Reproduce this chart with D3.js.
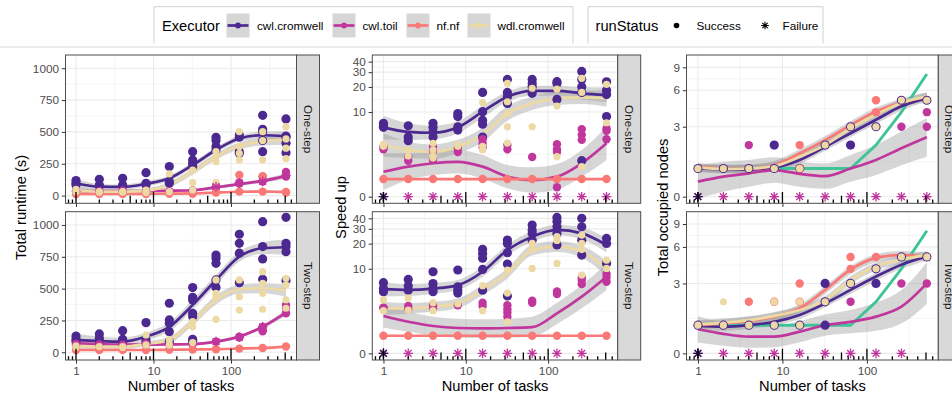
<!DOCTYPE html>
<html><head><meta charset="utf-8">
<script src="https://cdn.jsdelivr.net/npm/d3@7"></script>
<style>body{margin:0;background:#fff}svg{display:block}text{font-family:"Liberation Sans",Arial,Helvetica,sans-serif}</style>
</head><body><svg id="c" width="952" height="394"></svg>
<script>
// ---------- data ----------
const tasks=[1,2,4,8,16,32,64,128,256,512];
const executors=["cwl.cromwell","cwl.toil","nf.nf","wdl.cromwell"];
const statusLabels=["Success","Failure"];
const rowLabels=["One-step","Two-step"];
const metricTitles=["Total runtime (s)","Speed up","Total occupied nodes"];
const runtimeTicks=[0,250,500,750,1000];
const speedTicks=[0,10,20,30,40];
const nodeTicks=[0,3,6,9];
const taskTicks=[1,10,100];

// Runtime, One-step (points per task)
const rt1_cromwell=[[118,97,84],[128,84,76],[136,84,76],[180,97,84],[228,110,97],[345,280,254,228],[458,432,385,358],[476,458,345,332],[630,520,502,432,345],[602,468,458,411,337]];
const rt1_toil=[[40,35],[35],[38],[36],[35],[40],[65,75],[95,100],[110,150],[185,150]];
const rt1_nf=[[13],[13],[13],[13],[15],[15],[24],[31,162],[31,150],[28,24]];
const rt1_wdl=[[50,31],[31,28],[31,28],[44,24],[170,31],[201,102,44],[345,306,267,102],[502,385,332,280],[502,432,280],[540,445,372,290]];
const rt1_toil_fail=[[64,70],[128,100],[256,112],[512,160]];
const rt1_cromwell_fit=[97,70,68,92,136,240,358,448,474,468], rt1_cromwell_lo=[62,48,48,72,114,218,336,424,446,430], rt1_cromwell_hi=[132,92,88,112,158,262,380,472,502,506];
const rt1_toil_fit=[38,36,36,36,38,42,65,90,115,155], rt1_toil_lo=[30,29,29,29,31,34,55,78,100,135], rt1_toil_hi=[46,43,43,43,45,50,75,102,130,175];
const rt1_nf_fit=[13,13,13,14,15,17,24,30,32,28], rt1_nf_lo=[7,8,8,9,10,11,17,22,23,17], rt1_nf_hi=[19,18,18,19,20,23,31,38,41,39];
const rt1_wdl_fit=[44,31,31,39,84,188,306,390,424,437], rt1_wdl_lo=[20,12,13,20,62,164,282,364,394,400], rt1_wdl_hi=[68,50,49,58,106,212,330,416,454,474];

// Runtime, Two-step
const rt2_cromwell=[[128,102,84],[144,110,84],[170,102,84],[233,97,76],[385,254,228,162,84],[508,432,411,306,280,102,84],[764,738,699,568,508],[927,856,778,547],[1026,830,733,573],[1060,856,830,790,563]];
const rt2_toil=[[65,55],[62],[60],[60,70],[62],[65],[84],[123,115],[200,175,165],[372,346,306]];
const rt2_nf=[[18],[18],[18],[18],[20],[22],[24],[29],[34],[45]];
const rt2_wdl=[[50,40],[45],[45,38],[136,58],[97,58],[241,200,76],[568,463,437,259],[568,437,332],[633,542,463,338],[581,529,411,346]];
const rt2_toil_fail=[[64,84],[128,118],[256,200]];
const rt2_cromwell_fit=[97,88,84,123,200,372,568,751,817,825], rt2_cromwell_lo=[47,53,54,93,165,332,528,711,772,765], rt2_cromwell_hi=[147,123,114,153,235,412,608,791,862,885];
const rt2_toil_fit=[70,65,60,60,62,65,84,123,200,311], rt2_toil_lo=[58,55,50,50,52,55,74,111,185,286], rt2_toil_hi=[82,75,70,70,72,75,94,135,215,336];
const rt2_nf_fit=[18,18,18,18,20,22,24,29,34,45], rt2_nf_lo=[12,12,12,12,14,16,18,23,28,39], rt2_nf_hi=[24,24,24,24,26,28,30,35,40,51];
const rt2_wdl_fit=[50,45,45,65,97,241,411,495,503,484], rt2_wdl_lo=[25,25,25,45,72,211,376,460,463,434], rt2_wdl_hi=[75,65,65,85,122,271,446,530,543,534];

// Speed up, One-step
const sp1_cromwell=[[7.3,6.8,6.5],[6.8,4.9,4.4],[7.3,6.5,5.7,4.9],[9.6,8.8,6.6,6.0],[17.2,10.1,7.9,7.1,4.9],[24.6,17.2,15.3,12.7],[24.6,22,20.1,16.8],[23.1,22,14.2],[30.6,24.6,20.1,17.2,2.3],[23,18.3,16.2,8.8]];
const sp1_toil=[[3.66,3.37],[2.65,2.3],[3.66,3.23,2.35],[3.5,3.1],[4.6,4.07,3.6],[3.86,3.37],[2.62],[3.95,3.37,3.1,0.52],[6.14,5.23,4.51],[6.3,5.9,4.6]];
const sp1_nf=[[1],[1],[1],[1],[1],[1],[1],[1],[1],[1]];
const sp1_wdl=[[3.95,3.7],[3.3,2.7],[4.07,3.3,2.71,2.52],[3.9,3.7],[13.0,3.7,3.3],[22.1,13.3,9.6,6.6,4.1],[19.3,6.6],[18.8,11.8,2.65],[25.3,17.2,1.83],[21.5,7.4]];
const sp1_toil_fail=[[1,0],[2,0],[4,0],[8,0],[16,0],[32,0],[64,0],[128,0],[256,0],[512,0]];
const sp1_cromwell_fail=[[1,0]];
const sp1_cromwell_fit=[6.5,5.7,5.56,6.5,10.1,15.3,18,18,16.8,16], sp1_cromwell_lo=[4.6,4.5,4.6,5.5,8.5,13.3,15.7,15.7,14.2,13.1], sp1_cromwell_hi=[9.0,7.3,6.8,7.7,11.9,17.6,20.7,20.7,19.8,19.6];
const sp1_toil_fit=[1.47,1.83,2.09,2.2,1.83,1.15,0.94,1.15,2.09,4.07], sp1_toil_lo=[0.37,0.94,1.25,1.36,1.04,0.46,0.22,0.40,1.15,2.36], sp1_toil_hi=[2.97,2.97,3.13,3.30,2.80,1.95,1.78,2.03,3.30,6.62];
const sp1_nf_fit=[1,1,1,1,1,1,1,1,1,1], sp1_nf_lo=[0.98,0.98,0.98,0.98,0.98,0.98,0.98,0.98,0.98,0.98], sp1_nf_hi=[1.02,1.02,1.02,1.02,1.02,1.02,1.02,1.02,1.02,1.02];
const sp1_wdl_fit=[3.86,3.3,3.1,3.66,5.23,9.65,12.7,14.6,15,14.6], sp1_wdl_lo=[2.65,2.52,2.44,2.97,4.19,7.85,10.6,12.2,12.5,11.6], sp1_wdl_hi=[5.48,4.27,3.94,4.51,6.44,11.8,15.3,17.6,18.0,18.4];

// Speed up, Two-step
const sp2_cromwell=[[6.76,5.7,5.2],[7.4,6.2,5.45],[9.2,6.6,5.7,5.2],[9.65,6.0,5.45,5.0],[17.1,15.3,13.4,9.8,5.45],[22.1,20.1,15.6,11.4,4.6],[33.3,29.1,26.5,22],[41,36.6,31.8,26.5,19.3],[40,31.8,22,14.6],[23.1,20.1,11.6]];
const sp2_toil=[[3.23,3.13],[3.37,3.03],[3.45,3.13],[3.45],[3.73,3.37],[3.45,3.03,2.71,2.36],[3.99,3.73],[5.23,4.87],[7.85,7.28,6.48],[8.63,7.85,6.95]];
const sp2_nf=[[1],[1],[1],[1],[1],[1],[1],[1],[1],[1]];
const sp2_wdl=[[4.07,2.9],[4.3,2.95],[3.75,2.9],[3.6],[6.2,2.9],[9.65,5.0,1.95],[20.1,17.0,10.1],[24.2,21.8,11.6],[25.3,20.1,17,8.4],[12.7,10.1]];
const sp2_toil_fail=[[1,0],[2,0],[4,0],[8,0],[16,0],[32,0],[64,0],[128,0],[256,0]];
const sp2_cromwell_fail=[[1,0]];
const sp2_cromwell_fit=[5.6,5.48,5.7,6.3,9.2,16.8,24.2,29.1,26.5,19.3], sp2_cromwell_lo=[4.53,4.59,4.91,5.48,7.93,14.5,20.9,25.1,22.5,15.7], sp2_cromwell_hi=[6.95,6.48,6.69,7.28,10.7,19.4,28.0,33.6,31.2,23.5];
const sp2_toil_fit=[2.42,1.95,1.64,1.5,1.47,1.5,1.56,2.65,4.5,8.0], sp2_toil_lo=[1.52,1.25,1.02,0.90,0.86,0.90,0.94,1.78,3.13,5.48], sp2_toil_hi=[3.55,2.80,2.36,2.19,2.14,2.19,2.36,3.73,6.3,11.6];
const sp2_nf_fit=[1,1,1,1,1,1,1,1,1,1], sp2_nf_lo=[0.98,0.98,0.98,0.98,0.98,0.98,0.98,0.98,0.98,0.98], sp2_nf_hi=[1.02,1.02,1.02,1.02,1.02,1.02,1.02,1.02,1.02,1.02];
const sp2_wdl_fit=[3.13,3.13,3.3,3.66,5.48,8.8,16.8,18.4,16,10.1], sp2_wdl_lo=[2.52,2.62,2.80,3.13,4.72,7.63,14.5,15.9,13.6,8.23], sp2_wdl_hi=[3.86,3.70,3.86,4.27,6.3,10.1,19.4,21.3,18.9,12.4];

// Total occupied nodes, One-step
const nd1_cromwell=[[1],[1],[1],[2,1],[1],[2],[2,3],[3],[5],[5]];
const nd1_toil=[[],[],[2],[],[],[],[],[],[3],[4,3]];
const nd1_nf=[[],[],[],[],[2,1],[],[],[5,4],[],[]];
const nd1_wdl=[[1],[1],[1],[1],[1],[2],[3],[3],[5],[5]];
const nd1_toil_fail=[[1,0],[2,0],[4,0],[8,0],[16,0],[32,0],[64,0],[128,0],[256,0],[512,0]];
const nd1_cromwell_fail=[[1,0]];
const nd1_cromwell_fit=[1.0,0.97,0.97,1.04,1.34,1.92,2.62,3.45,4.47,5.2], nd1_cromwell_lo=[0.86,0.82,0.82,0.89,1.18,1.74,2.40,3.17,4.12,4.83], nd1_cromwell_hi=[1.16,1.12,1.12,1.20,1.50,2.12,2.84,3.71,4.80,5.57];
const nd1_toil_fit=[0.52,0.70,0.82,0.94,0.80,0.72,1.0,1.34,1.85,2.4], nd1_toil_lo=[-0.06,0.17,0.34,0.48,0.34,0.27,0.52,0.76,1.13,1.47], nd1_toil_hi=[1.13,1.27,1.34,1.45,1.28,1.20,1.55,2.0,2.71,3.57];
const nd1_nf_fit=[1.07,1.0,1.0,1.13,1.62,2.25,3.1,4.06,4.76,5.36], nd1_nf_lo=[0.92,0.86,0.86,0.98,1.45,2.05,2.86,3.73,4.40,4.98], nd1_nf_hi=[1.23,1.16,1.16,1.30,1.80,2.47,3.36,4.37,5.11,5.75];
const nd1_wdl_fit=[1.04,0.98,1.0,1.09,1.47,2.0,2.9,3.82,4.76,5.36], nd1_wdl_lo=[0.89,0.83,0.86,0.94,1.31,1.82,2.67,3.50,4.40,4.98], nd1_wdl_hi=[1.20,1.13,1.16,1.26,1.65,2.20,3.15,4.10,5.11,5.75];

// Total occupied nodes, Two-step
const nd2_cromwell=[[1],[1],[1],[1],[1],[3,2,1],[3],[4,3],[5],[5]];
const nd2_toil=[[],[],[],[],[],[],[2],[],[3],[3]];
const nd2_nf=[[],[],[2],[2],[3,2],[],[5,4],[5],[],[]];
const nd2_wdl=[[1],[2,1],[1],[2,1],[2,1],[2],[3],[4],[5],[5]];
const nd2_toil_fail=[[1,0],[2,0],[4,0],[8,0],[16,0],[32,0],[64,0],[128,0],[256,0]];
const nd2_cromwell_fail=[[1,0]];
const nd2_cromwell_fit=[0.97,0.94,1.0,1.13,1.41,1.92,2.62,3.45,4.33,5.05], nd2_cromwell_lo=[0.82,0.79,0.86,0.98,1.24,1.74,2.40,3.17,4.0,4.66], nd2_cromwell_hi=[1.12,1.09,1.16,1.30,1.58,2.12,2.84,3.71,4.64,5.41];
const nd2_toil_fit=[0.85,0.68,0.58,0.58,0.76,1.0,1.13,1.34,1.77,3.0], nd2_toil_lo=[0.37,0.26,0.19,0.21,0.38,0.61,0.70,0.79,1.07,1.90], nd2_toil_hi=[1.36,1.11,0.98,0.97,1.16,1.43,1.62,1.96,2.62,4.51];
const nd2_nf_fit=[1.0,1.07,1.17,1.34,1.7,2.62,3.94,4.91,5.2,5.05], nd2_nf_lo=[0.86,0.92,1.02,1.18,1.52,2.40,3.61,4.53,4.83,4.66], nd2_nf_hi=[1.16,1.23,1.34,1.50,1.88,2.84,4.23,5.25,5.57,5.41];
const nd2_wdl_fit=[1.04,1.09,1.2,1.37,1.62,2.08,3.2,4.2,4.76,5.2], nd2_wdl_lo=[0.89,0.94,1.04,1.20,1.45,1.90,2.97,3.87,4.40,4.83], nd2_wdl_hi=[1.20,1.26,1.36,1.53,1.80,2.29,3.47,4.51,5.11,5.57];

// reference line in the node panels
const idealNodes=[1,1,1,1,1,1,1,2,4,8];

// ---------- styles / layout ----------
const COLORS={"cwl.cromwell":"#4B2991","cwl.toil":"#C0369D","nf.nf":"#FA7876","wdl.cromwell":"#EDD9A3"};
const RADII={"cwl.cromwell":4.6,"cwl.toil":4.2,"nf.nf":4.2,"wdl.cromwell":3.6};
const IDEAL_COLOR="#3FC497";
const cols=[{x0:65.5,x1:296.5,tx:21},{x0:372.3,x1:617.7,tx:341},{x0:686.5,x1:938.3,tx:662.5}];
const rows=[{y0:55,y1:203.3},{y0:211.7,y1:360}];
const STRIP_W=23;

function S(pts,fit,lo,hi){return {pts,fit,lo,hi};}
const panelData=[
 [
  {series:[S(rt1_cromwell,rt1_cromwell_fit,rt1_cromwell_lo,rt1_cromwell_hi),S(rt1_toil,rt1_toil_fit,rt1_toil_lo,rt1_toil_hi),S(rt1_nf,rt1_nf_fit,rt1_nf_lo,rt1_nf_hi),S(rt1_wdl,rt1_wdl_fit,rt1_wdl_lo,rt1_wdl_hi)],fails:[["cwl.toil",rt1_toil_fail]]},
  {series:[S(rt2_cromwell,rt2_cromwell_fit,rt2_cromwell_lo,rt2_cromwell_hi),S(rt2_toil,rt2_toil_fit,rt2_toil_lo,rt2_toil_hi),S(rt2_nf,rt2_nf_fit,rt2_nf_lo,rt2_nf_hi),S(rt2_wdl,rt2_wdl_fit,rt2_wdl_lo,rt2_wdl_hi)],fails:[["cwl.toil",rt2_toil_fail]]}
 ],
 [
  {series:[S(sp1_cromwell,sp1_cromwell_fit,sp1_cromwell_lo,sp1_cromwell_hi),S(sp1_toil,sp1_toil_fit,sp1_toil_lo,sp1_toil_hi),S(sp1_nf,sp1_nf_fit,sp1_nf_lo,sp1_nf_hi),S(sp1_wdl,sp1_wdl_fit,sp1_wdl_lo,sp1_wdl_hi)],fails:[["cwl.toil",sp1_toil_fail],["cwl.cromwell",sp1_cromwell_fail]]},
  {series:[S(sp2_cromwell,sp2_cromwell_fit,sp2_cromwell_lo,sp2_cromwell_hi),S(sp2_toil,sp2_toil_fit,sp2_toil_lo,sp2_toil_hi),S(sp2_nf,sp2_nf_fit,sp2_nf_lo,sp2_nf_hi),S(sp2_wdl,sp2_wdl_fit,sp2_wdl_lo,sp2_wdl_hi)],fails:[["cwl.toil",sp2_toil_fail],["cwl.cromwell",sp2_cromwell_fail]]}
 ],
 [
  {series:[S(nd1_cromwell,nd1_cromwell_fit,nd1_cromwell_lo,nd1_cromwell_hi),S(nd1_toil,nd1_toil_fit,nd1_toil_lo,nd1_toil_hi),S(nd1_nf,nd1_nf_fit,nd1_nf_lo,nd1_nf_hi),S(nd1_wdl,nd1_wdl_fit,nd1_wdl_lo,nd1_wdl_hi)],fails:[["cwl.toil",nd1_toil_fail],["cwl.cromwell",nd1_cromwell_fail]],ideal:idealNodes},
  {series:[S(nd2_cromwell,nd2_cromwell_fit,nd2_cromwell_lo,nd2_cromwell_hi),S(nd2_toil,nd2_toil_fit,nd2_toil_lo,nd2_toil_hi),S(nd2_nf,nd2_nf_fit,nd2_nf_lo,nd2_nf_hi),S(nd2_wdl,nd2_wdl_fit,nd2_wdl_lo,nd2_wdl_hi)],fails:[["cwl.toil",nd2_toil_fail],["cwl.cromwell",nd2_cromwell_fail]],ideal:idealNodes}
 ]
];

// pseudo-log (asinh(x/2)) scale compatible with d3.axis
function pseudo(dT,r){
  const lin=d3.scaleLinear().domain(dT).range(r);
  const s=v=>lin(Math.asinh(v/2));
  s.domain=()=>dT.map(t=>2*Math.sinh(t));
  s.range=()=>lin.range();
  s.copy=()=>pseudo(dT,r);
  s.t=t=>lin(t);
  return s;
}
const xLogDom=[Math.pow(10,-0.13546),Math.pow(10,2.84477)];

function starPath(cx,cy,r){
  let p="";
  for(let k=0;k<4;k++){const a=k*Math.PI/4, dx=r*Math.cos(a), dy=r*Math.sin(a);
    p+=`M${cx-dx},${cy-dy}L${cx+dx},${cy+dy}`;}
  return p;
}

const svg=d3.select("#c");
const defs=svg.append("defs");

cols.forEach((c,ci)=>{
  const x=d3.scaleLog().domain(xLogDom).range([c.x0,c.x1]);
  rows.forEach((r,ri)=>{
    const pd=panelData[ci][ri];
    let y, majorT, minorT, ticks;
    if(ci===0){
      y=d3.scaleLinear().domain([-60.5,1104]).range([r.y1,r.y0]);
      ticks=runtimeTicks;
      majorT=ticks.map(v=>y(v));
      minorT=[125,375,625,875].map(v=>y(v));
    }else{
      const dT=ci===1?[-0.181,3.871]:[-0.113,2.42];
      y=pseudo(dT,[r.y1,r.y0]);
      ticks=ci===1?speedTicks:nodeTicks;
      const tt=ticks.map(v=>Math.asinh(v/2));
      majorT=ticks.map(v=>y(v));
      minorT=[];
      for(let i=0;i<tt.length-1;i++) minorT.push(y.t((tt[i]+tt[i+1])/2));
    }
    const g=svg.append("g");
    const cid=`clip${ci}${ri}`;
    defs.append("clipPath").attr("id",cid).append("rect").attr("x",c.x0).attr("y",r.y0).attr("width",c.x1-c.x0).attr("height",r.y1-r.y0);
    const pg=g.append("g").attr("clip-path",`url(#${cid})`);
    pg.append("rect").attr("x",c.x0).attr("y",r.y0).attr("width",c.x1-c.x0).attr("height",r.y1-r.y0).attr("fill","#fff");
    // grid
    const xMinor=[0.5,1.5,2.5].map(l=>x(Math.pow(10,l)));
    const xMajor=taskTicks.map(v=>x(v));
    pg.selectAll(null).data(minorT).join("line").attr("x1",c.x0).attr("x2",c.x1).attr("y1",d=>d).attr("y2",d=>d).attr("stroke","#ebebeb").attr("stroke-width",0.55);
    pg.selectAll(null).data(xMinor).join("line").attr("y1",r.y0).attr("y2",r.y1).attr("x1",d=>d).attr("x2",d=>d).attr("stroke","#ebebeb").attr("stroke-width",0.55);
    pg.selectAll(null).data(majorT).join("line").attr("x1",c.x0).attr("x2",c.x1).attr("y1",d=>d).attr("y2",d=>d).attr("stroke","#ebebeb").attr("stroke-width",1.1);
    pg.selectAll(null).data(xMajor).join("line").attr("y1",r.y0).attr("y2",r.y1).attr("x1",d=>d).attr("x2",d=>d).attr("stroke","#ebebeb").attr("stroke-width",1.1);
    // ribbons
    const area=d3.area().x((d,i)=>x(tasks[i])).curve(d3.curveMonotoneX);
    pd.series.forEach(s=>{
      const arr=s.fit.map((f,i)=>[s.lo[i],s.hi[i]]);
      pg.append("path").attr("d",area.y0(d=>y(d[0])).y1(d=>y(d[1]))(arr)).attr("fill","#999999").attr("fill-opacity",0.4);
    });
    // reference line (under the fits)
    if(pd.ideal){
      pg.append("path").attr("d",d3.line().x((d,i)=>x(tasks[i])).y(d=>y(d))(pd.ideal)).attr("fill","none").attr("stroke",IDEAL_COLOR).attr("stroke-width",2.9);
    }
    // fit lines
    const line=d3.line().x((d,i)=>x(tasks[i])).y(d=>y(d)).curve(d3.curveMonotoneX);
    pd.series.forEach((s,k)=>{
      pg.append("path").attr("d",line(s.fit)).attr("fill","none").attr("stroke",COLORS[executors[k]]).attr("stroke-width",2.7);
    });
    // points
    pd.series.forEach((s,k)=>{
      const ex=executors[k];
      const flat=[];
      s.pts.forEach((vals,i)=>vals.forEach(v=>flat.push([tasks[i],v])));
      pg.selectAll(null).data(flat).join("circle").attr("cx",d=>x(d[0])).attr("cy",d=>y(d[1])).attr("r",RADII[ex]).attr("fill",COLORS[ex]);
    });
    pd.fails.forEach(([ex,arr])=>{
      pg.selectAll(null).data(arr).join("path").attr("d",d=>starPath(x(d[0]),y(d[1]),4.8)).attr("stroke",ex==="cwl.cromwell"?"#2a1650":COLORS[ex]).attr("stroke-width",1.3).attr("fill","none");
    });
    // log ticks
    const lt=[];
    for(let dec=-1;dec<=2;dec++) for(let m=1;m<=9;m++){
      const v=m*Math.pow(10,dec);
      if(v>=xLogDom[0]&&v<=xLogDom[1]) lt.push({v,len:m===1?11.3:(m===5?7.5:3.8)});
    }
    pg.selectAll(null).data(lt).join("line").attr("x1",d=>x(d.v)).attr("x2",d=>x(d.v)).attr("y1",r.y1).attr("y2",d=>r.y1-d.len).attr("stroke","#000").attr("stroke-width",1.3);
    // border
    g.append("rect").attr("x",c.x0).attr("y",r.y0).attr("width",c.x1-c.x0).attr("height",r.y1-r.y0).attr("fill","none").attr("stroke","#4d4d4d").attr("stroke-width",1);
    // strip
    g.append("rect").attr("x",c.x1).attr("y",r.y0).attr("width",STRIP_W).attr("height",r.y1-r.y0).attr("fill","#d9d9d9").attr("stroke","#4d4d4d").attr("stroke-width",1);
    g.append("text").attr("transform",`translate(${c.x1+STRIP_W/2},${(r.y0+r.y1)/2}) rotate(90)`).attr("text-anchor","middle").attr("dominant-baseline","central").attr("font-size",11.73).attr("fill","#1a1a1a").text(rowLabels[ri]);
    // y axis
    const ya=g.append("g").attr("transform",`translate(${c.x0},0)`).call(d3.axisLeft(y).tickValues(ticks).tickFormat(d3.format("d")).tickSize(3.67).tickPadding(2.9));
    ya.select(".domain").remove();
    ya.selectAll(".tick line").attr("stroke","#333");
    ya.selectAll(".tick text").attr("font-size",11.73).attr("fill","#4d4d4d").attr("font-family","Liberation Sans, Arial, sans-serif");
    // x axis
    const xa=g.append("g").attr("transform",`translate(0,${r.y1})`).call(d3.axisBottom(x).tickValues(taskTicks).tickFormat(d3.format("d")).tickSize(3.67).tickPadding(2.9));
    xa.select(".domain").remove();
    xa.selectAll(".tick line").attr("stroke","#333");
    xa.selectAll(".tick text").attr("font-size",11.73).attr("fill","#4d4d4d").attr("font-family","Liberation Sans, Arial, sans-serif").attr("opacity",ri===1?1:0);
  });
  // axis titles
  svg.append("text").attr("transform",`translate(${c.tx},${(rows[0].y0+rows[1].y1)/2}) rotate(-90)`).attr("text-anchor","middle").attr("dominant-baseline","central").attr("font-size",14.67).attr("fill","#000").text(metricTitles[ci]);
  svg.append("text").attr("x",(c.x0+c.x1)/2).attr("y",391).attr("text-anchor","middle").attr("font-size",14.67).attr("fill","#000").text("Number of tasks");
});

// ---------- legend ----------
const lg=svg.append("g");
lg.append("line").attr("x1",0).attr("x2",952).attr("y1",47).attr("y2",47).attr("stroke","#dadada").attr("stroke-width",1.2);
[[154,573],[588,823]].forEach(([a,b])=>lg.append("path").attr("d",`M${a},43.5V6.7H${b}V43.5`).attr("fill","none").attr("stroke","#cfcfcf").attr("stroke-width",1));
const LY=25.5;
lg.append("text").attr("x",162).attr("y",LY).attr("dominant-baseline","central").attr("font-size",14.67).text("Executor");
const keyX=[226.5,332.5,406.5,467.5], labX=[257,362.5,436.5,497.5];
executors.forEach((ex,i)=>{
  lg.append("rect").attr("x",keyX[i]).attr("y",LY-12).attr("width",23).attr("height",24).attr("fill","#d6d6d6");
  lg.append("line").attr("x1",keyX[i]+1).attr("x2",keyX[i]+22).attr("y1",LY).attr("y2",LY).attr("stroke",COLORS[ex]).attr("stroke-width",2.7);
  lg.append("circle").attr("cx",keyX[i]+11.5).attr("cy",LY).attr("r",2.9).attr("fill",COLORS[ex]);
  lg.append("text").attr("x",labX[i]).attr("y",LY).attr("dominant-baseline","central").attr("font-size",11.73).text(ex);
});
lg.append("text").attr("x",595.5).attr("y",LY).attr("dominant-baseline","central").attr("font-size",14.67).text("runStatus");
lg.append("circle").attr("cx",676.5).attr("cy",LY).attr("r",2.8).attr("fill","#000");
lg.append("text").attr("x",696.5).attr("y",LY).attr("dominant-baseline","central").attr("font-size",11.73).text(statusLabels[0]);
lg.append("path").attr("d",starPath(765,LY,3.8)).attr("stroke","#000").attr("stroke-width",1.1);
lg.append("text").attr("x",782.5).attr("y",LY).attr("dominant-baseline","central").attr("font-size",11.73).text(statusLabels[1]);
</script></body></html>
